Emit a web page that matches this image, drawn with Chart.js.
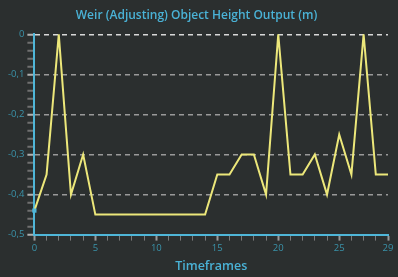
<!DOCTYPE html>
<html>
<head>
<meta charset="utf-8">
<script src="https://cdn.jsdelivr.net/npm/chart.js@4"></script>
<style>
  html, body { margin: 0; padding: 0; background: #2b2f2f; }
  #wrap { width: 398px; height: 277px; }
</style>
</head>
<body>
<div id="wrap"><canvas id="weir-chart"></canvas></div>
<script>
// valores
const timeframes = [0, 1, 2, 3, 4, 5, 6, 7, 8, 9, 10, 11, 12, 13, 14, 15, 16, 17, 18, 19, 20, 21, 22, 23, 24, 25, 26, 27, 28, 29];
const heights = [-0.44, -0.35, 0, -0.4, -0.3, -0.45, -0.45, -0.45, -0.45, -0.45, -0.45, -0.45, -0.45, -0.45, -0.45,
	-0.35, -0.35, -0.3, -0.3, -0.4, 0, -0.35, -0.35, -0.3, -0.4, -0.25, -0.35, 0, -0.35, -0.35];
const xLabels = [0, 5, 10, 15, 20, 25, 29];
const yLabels = [0, -0.1, -0.2, -0.3, -0.4, -0.5];

const ctx = document.getElementById("weir-chart");
const tickFont = { family: "Open Sans", size: 9.5 };

function isYLabel(v) {
	return yLabels.some(l => Math.abs(l - v) < 1e-6);
}

new Chart(ctx, {
	type: "line",
	data: {
		datasets: [
			{
				label: "Height",
				data: timeframes.map((t, i) => ({ x: t, y: heights[i] })),
				borderColor: "#ece77a",
				borderWidth: 2,
				tension: 0,
				pointStyle: "rect",
				pointRadius: (c) => c.dataIndex === 0 ? 3 : 0,
				pointBackgroundColor: "#4fb6d8",
				pointBorderWidth: 0,
				clip: false
			}
		]
	},
	options: {
		responsive: true,
		maintainAspectRatio: false,
		animation: false,
		layout: { padding: { left: 5, right: 10, top: 0, bottom: 0 } },
		plugins: {
			legend: { display: false },
			tooltip: { enabled: false },
			title: {
				display: true,
				text: "Weir (Adjusting) Object Height Output (m)",
				color: "#4ab2d6",
				font: { family: "Open Sans", size: 12, weight: "600" },
				padding: { top: 8, bottom: 12 }
			}
		},
		scales: {
			x: {
				type: "linear",
				min: 0,
				max: 29,
				afterBuildTicks: (axis) => {
					axis.ticks = timeframes.map(v => ({ value: v }));
				},
				ticks: {
					autoSkip: false,
					maxRotation: 0,
					color: "#3a93aa",
					font: tickFont,
					padding: 2,
					callback: (v) => xLabels.includes(v) ? String(v) : ""
				},
				grid: {
					drawOnChartArea: false,
					tickLength: 6,
					tickColor: (c) => xLabels.includes(c.tick.value) ? "#9a9a9a" : "#7a7a7a",
					tickWidth: (c) => xLabels.includes(c.tick.value) ? 2 : 1
				},
				border: { color: "#4fb6d8", width: 2 },
				title: {
					display: true,
					text: "Timeframes",
					color: "#4ab2d6",
					font: { family: "Open Sans", size: 12.5, weight: "600" },
					padding: { top: 3, bottom: 3 }
				}
			},
			y: {
				min: -0.5,
				max: 0,
				afterBuildTicks: (axis) => {
					const t = [];
					for (let i = 0; i <= 25; i++) t.push({ value: -0.5 + i * 0.02 });
					axis.ticks = t;
				},
				ticks: {
					autoSkip: false,
					color: "#3a93aa",
					font: tickFont,
					padding: 3,
					callback: (v) => isYLabel(v) ? (Math.round(v * 10) / 10).toLocaleString("pt-BR") : ""
				},
				grid: {
					drawOnChartArea: true,
					tickLength: 7,
					color: (c) => {
						if (!isYLabel(c.tick.value)) return "rgba(0,0,0,0)";
						return Math.abs(c.tick.value) < 1e-6 ? "#d8d8d8" : "#9a9a9a";
					},
					tickColor: (c) => isYLabel(c.tick.value) ? "#b0b0b0" : "#707070",
					lineWidth: 1.5,
					tickBorderDash: [],
					tickWidth: 2
				},
				border: { color: "#4fb6d8", width: 2, dash: [5, 4] }
			}
		}
	}
});
</script>
</body>
</html>
